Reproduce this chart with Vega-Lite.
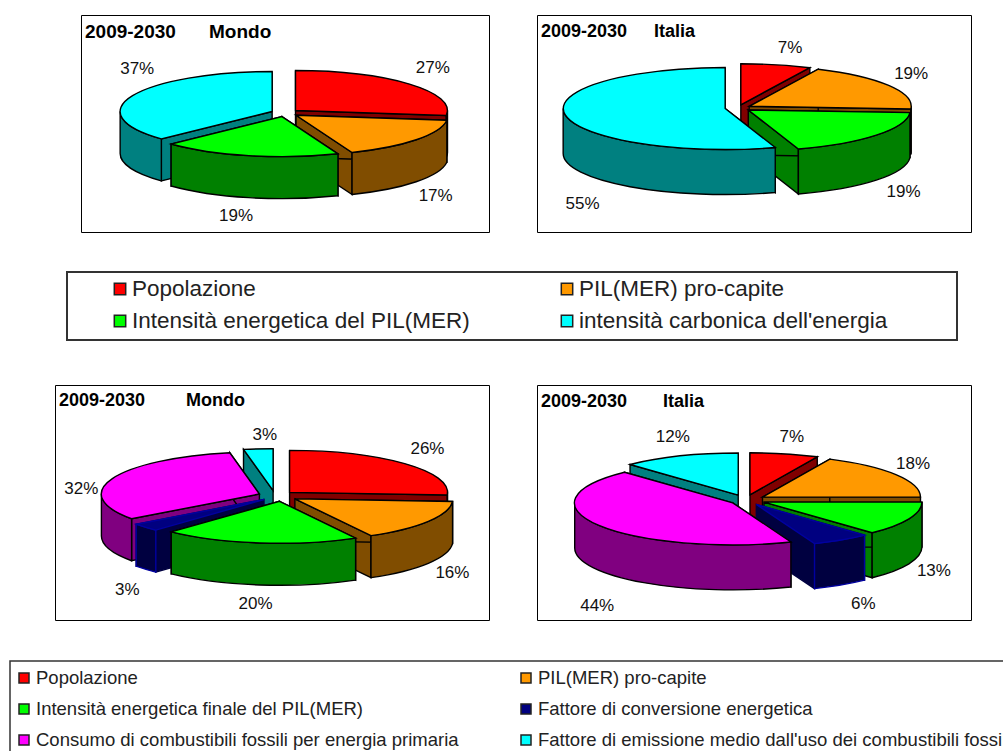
{
"$schema":"https://vega.github.io/schema/vega-lite/v6.json",
"background":"white",
"padding":{"top":14,"left":0,"right":0,"bottom":0},
"spacing":0,
"config":{"concat":{"spacing":0},"view":{"stroke":null},"text":{"font":"Liberation Sans"}},
"data":{"values":[
{"quadro":"mondo_1","voce":"Popolazione","pct":27},
{"quadro":"mondo_1","voce":"PIL(MER) pro-capite","pct":17},
{"quadro":"mondo_1","voce":"Intensità energetica del PIL(MER)","pct":19},
{"quadro":"mondo_1","voce":"intensità carbonica dell'energia","pct":37},
{"quadro":"italia_1","voce":"Popolazione","pct":7},
{"quadro":"italia_1","voce":"PIL(MER) pro-capite","pct":19},
{"quadro":"italia_1","voce":"Intensità energetica del PIL(MER)","pct":19},
{"quadro":"italia_1","voce":"intensità carbonica dell'energia","pct":55},
{"quadro":"mondo_2","voce":"Popolazione","pct":26},
{"quadro":"mondo_2","voce":"PIL(MER) pro-capite","pct":16},
{"quadro":"mondo_2","voce":"Intensità energetica finale del PIL(MER)","pct":20},
{"quadro":"mondo_2","voce":"Fattore di conversione energetica","pct":3},
{"quadro":"mondo_2","voce":"Consumo di combustibili fossili per energia primaria","pct":32},
{"quadro":"mondo_2","voce":"Fattore di emissione medio dall'uso dei combustibili fossili","pct":3},
{"quadro":"italia_2","voce":"Popolazione","pct":7},
{"quadro":"italia_2","voce":"PIL(MER) pro-capite","pct":18},
{"quadro":"italia_2","voce":"Intensità energetica finale del PIL(MER)","pct":13},
{"quadro":"italia_2","voce":"Fattore di conversione energetica","pct":6},
{"quadro":"italia_2","voce":"Consumo di combustibili fossili per energia primaria","pct":44},
{"quadro":"italia_2","voce":"Fattore di emissione medio dall'uso dei combustibili fossili","pct":12}
]},
"transform":[
{"stack":"pct","groupby":["quadro"],"as":["p0","p1"]},
{"window":[{"op":"row_number","as":"n"}],"groupby":["quadro"]},
{"calculate":"{mondo_1:{rx:152,ry:40,dep:42,e:14,cx:204,cy:98},italia_1:{rx:162,ry:41,dep:45,e:13,cx:201,cy:93},mondo_2:{rx:158,ry:42,dep:42,e:20,cx:220,cy:111},italia_2:{rx:158,ry:42,dep:45,e:20,cx:208.6,cy:115}}[datum.quadro]","as":"g"},
{"calculate":"{mondo_1:[[0,0],[-5,-3],[-6,-8],[33,-17]],italia_1:[[7,8],[-5,1],[2,-6],[49,39]],mondo_2:[[4.5,1],[6,-5,3],[6,-6,7],[4.5,3,4],[-5,19,3],[9,10]],italia_2:[[2,6],[-4,2],[2,-4],[9,-3],[23,21,4],[2,3]]}[datum.quadro][datum.n-1]","as":"sp"},
{"calculate":"datum.p0*PI/50","as":"t0"},
{"calculate":"datum.p1*PI/50","as":"t1"},
{"calculate":"(datum.t0+datum.t1)/2","as":"tm"},
{"calculate":"max(datum.t0,PI/2)","as":"u0"},
{"calculate":"min(datum.t1,3*PI/2)","as":"u1"},
{"calculate":"datum.g.cx+datum.g.e*sin(datum.tm)+(datum.sp[2]||0)","as":"ax"},
{"calculate":"datum.g.cy-datum.g.e*datum.g.ry/datum.g.rx*cos(datum.tm)","as":"ay"},
{"calculate":"datum.g.cx+(datum.g.rx+45)*sin(datum.tm)+datum.sp[0]","as":"lx"},
{"calculate":"1+datum.g.cy-(datum.g.ry+30)*cos(datum.tm)+(cos(datum.tm)<0?datum.g.dep:0)+datum.sp[1]","as":"ly"},
{"calculate":"datum.pct+'%'","as":"etichetta"},
{"calculate":"round(10*datum.g.rx*sin(datum.t0))/10","as":"x0"},
{"calculate":"round(-10*datum.g.ry*cos(datum.t0))/10","as":"y0"},
{"calculate":"round(10*datum.g.rx*sin(datum.t1))/10","as":"x1"},
{"calculate":"round(-10*datum.g.ry*cos(datum.t1))/10","as":"y1"},
{"calculate":"round(10*datum.g.rx*sin(datum.u0))/10","as":"xa"},
{"calculate":"round(-10*datum.g.ry*cos(datum.u0))/10","as":"ya"},
{"calculate":"round(10*datum.g.rx*sin(datum.u1))/10","as":"xb"},
{"calculate":"round(-10*datum.g.ry*cos(datum.u1))/10","as":"yb"},
{"calculate":"'M0 0L'+datum.x0+' '+datum.y0+'A'+datum.g.rx+' '+datum.g.ry+' 0 '+(datum.t1-datum.t0>PI?1:0)+' 1 '+datum.x1+' '+datum.y1+'Z'","as":"piano"},
{"calculate":"'M0 0L'+datum.x0+' '+datum.y0+'L'+datum.x0+' '+(datum.y0+datum.g.dep)+'L0 '+datum.g.dep+'ZM0 0L'+datum.x1+' '+datum.y1+'L'+datum.x1+' '+(datum.y1+datum.g.dep)+'L0 '+datum.g.dep+'Z'","as":"tagli"},
{"calculate":"datum.u0<datum.u1?'M'+datum.xa+' '+datum.ya+'A'+datum.g.rx+' '+datum.g.ry+' 0 0 1 '+datum.xb+' '+datum.yb+'L'+datum.xb+' '+(datum.yb+datum.g.dep)+'A'+datum.g.rx+' '+datum.g.ry+' 0 0 0 '+datum.xa+' '+(datum.ya+datum.g.dep)+'Z':'M0 0Z'","as":"bordo"},
{"calculate":"indexof(['Popolazione','PIL(MER) pro-capite','Intensità energetica del PIL(MER)','Intensità energetica finale del PIL(MER)','Fattore di conversione energetica','Consumo di combustibili fossili per energia primaria','intensità carbonica dell\\'energia','Fattore di emissione medio dall\\'uso dei combustibili fossili'],datum.voce)","as":"k"},
{"calculate":"['#ff0000','#ff9900','#00ff00','#00ff00','#000080','#ff00ff','#00ffff','#00ffff'][datum.k]","as":"tinta"},
{"calculate":"['#800000','#804d00','#008000','#008000','#000040','#800080','#008080','#008080'][datum.k]","as":"ombra"},
{"calculate":"datum.k==4?'#0000a0':'#000000'","as":"linea"},
{"calculate":"datum.k==4?'#000040':'#000000'","as":"lineaTaglio"}
],
"vconcat":[
{"hconcat":[
{"width":80,"height":1,"data":{"values":[]},"mark":"point"},
{"width":408,"height":217,"view":{"stroke":"#000","strokeWidth":1,"fill":"white"},
"transform":[{"filter":"datum.quadro==='mondo_1'"}],
"layer":[
{"mark":{"type":"point","filled":true,"opacity":1,"strokeWidth":1.4,"size":4},"encoding":{"x":{"field":"ax","type":"quantitative","scale":{"domain":[0,408],"nice":false,"zero":false},"axis":null},"y":{"field":"ay","type":"quantitative","scale":{"domain":[217,0],"nice":false,"zero":false},"axis":null},"shape":{"field":"tagli","type":"nominal","scale":null},"fill":{"field":"ombra","type":"nominal","scale":null},"stroke":{"field":"lineaTaglio","type":"nominal","scale":null},"order":{"field":"ay","type":"quantitative"}}},
{"mark":{"type":"point","filled":true,"opacity":1,"strokeWidth":1.4,"size":4},"encoding":{"x":{"field":"ax","type":"quantitative"},"y":{"field":"ay","type":"quantitative"},"shape":{"field":"bordo","type":"nominal","scale":null},"fill":{"field":"ombra","type":"nominal","scale":null},"stroke":{"field":"linea","type":"nominal","scale":null},"order":{"field":"ay","type":"quantitative"}}},
{"mark":{"type":"point","filled":true,"opacity":1,"strokeWidth":1.4,"size":4},"encoding":{"x":{"field":"ax","type":"quantitative"},"y":{"field":"ay","type":"quantitative"},"shape":{"field":"piano","type":"nominal","scale":null},"fill":{"field":"tinta","type":"nominal","scale":null},"stroke":{"field":"linea","type":"nominal","scale":null},"order":{"field":"ay","type":"quantitative"}}},
{"mark":{"type":"text","fontSize":17,"color":"#111"},"encoding":{"x":{"field":"lx","type":"quantitative"},"y":{"field":"ly","type":"quantitative"},"text":{"field":"etichetta"}}},
{"data":{"values":[{"t":"2009-2030"}]},"mark":{"type":"text","fontSize":19,"fontWeight":"bold","align":"left","color":"#000"},"encoding":{"x":{"datum":4},"y":{"datum":17},"text":{"field":"t"}}},
{"data":{"values":[{"t":"Mondo"}]},"mark":{"type":"text","fontSize":19,"fontWeight":"bold","align":"left","color":"#000"},"encoding":{"x":{"datum":128},"y":{"datum":17},"text":{"field":"t"}}}
]},
{"width":46,"height":1,"data":{"values":[]},"mark":"point"},
{"width":434,"height":217,"view":{"stroke":"#000","strokeWidth":1,"fill":"white"},
"transform":[{"filter":"datum.quadro==='italia_1'"}],
"layer":[
{"mark":{"type":"point","filled":true,"opacity":1,"strokeWidth":1.4,"size":4},"encoding":{"x":{"field":"ax","type":"quantitative","scale":{"domain":[0,434],"nice":false,"zero":false},"axis":null},"y":{"field":"ay","type":"quantitative","scale":{"domain":[217,0],"nice":false,"zero":false},"axis":null},"shape":{"field":"tagli","type":"nominal","scale":null},"fill":{"field":"ombra","type":"nominal","scale":null},"stroke":{"field":"lineaTaglio","type":"nominal","scale":null},"order":{"field":"ay","type":"quantitative"}}},
{"mark":{"type":"point","filled":true,"opacity":1,"strokeWidth":1.4,"size":4},"encoding":{"x":{"field":"ax","type":"quantitative"},"y":{"field":"ay","type":"quantitative"},"shape":{"field":"bordo","type":"nominal","scale":null},"fill":{"field":"ombra","type":"nominal","scale":null},"stroke":{"field":"linea","type":"nominal","scale":null},"order":{"field":"ay","type":"quantitative"}}},
{"mark":{"type":"point","filled":true,"opacity":1,"strokeWidth":1.4,"size":4},"encoding":{"x":{"field":"ax","type":"quantitative"},"y":{"field":"ay","type":"quantitative"},"shape":{"field":"piano","type":"nominal","scale":null},"fill":{"field":"tinta","type":"nominal","scale":null},"stroke":{"field":"linea","type":"nominal","scale":null},"order":{"field":"ay","type":"quantitative"}}},
{"mark":{"type":"text","fontSize":17,"color":"#111"},"encoding":{"x":{"field":"lx","type":"quantitative"},"y":{"field":"ly","type":"quantitative"},"text":{"field":"etichetta"}}},
{"data":{"values":[{"t":"2009-2030"}]},"mark":{"type":"text","fontSize":18,"fontWeight":"bold","align":"left","color":"#000"},"encoding":{"x":{"datum":4},"y":{"datum":17},"text":{"field":"t"}}},
{"data":{"values":[{"t":"Italia"}]},"mark":{"type":"text","fontSize":18,"fontWeight":"bold","align":"left","color":"#000"},"encoding":{"x":{"datum":117},"y":{"datum":17},"text":{"field":"t"}}}
]}
]},
{"width":1,"height":38,"data":{"values":[]},"mark":"point"},
{"hconcat":[
{"width":66,"height":1,"data":{"values":[]},"mark":"point"},
{"width":890,"height":68,"view":{"stroke":"#333","strokeWidth":2,"fill":"white"},
"data":{"values":[
{"voce":"Popolazione","colore":"#ff0000","colonna":0,"riga":0},
{"voce":"PIL(MER) pro-capite","colore":"#ff9900","colonna":1,"riga":0},
{"voce":"Intensità energetica del PIL(MER)","colore":"#00ff00","colonna":0,"riga":1},
{"voce":"intensità carbonica dell'energia","colore":"#00ffff","colonna":1,"riga":1}
]},
"layer":[
{"mark":{"type":"point","shape":"square","filled":true,"opacity":1,"size":130,"stroke":"#222","strokeWidth":1.5},"encoding":{"x":{"field":"colonna","type":"quantitative","scale":{"domain":[0,1],"range":[53,500]},"axis":null},"y":{"field":"riga","type":"quantitative","scale":{"domain":[0,1],"range":[17,49]},"axis":null},"fill":{"field":"colore","type":"nominal","scale":null}}},
{"mark":{"type":"text","fontSize":22.5,"align":"left","dx":12,"color":"#222"},"encoding":{"x":{"field":"colonna","type":"quantitative"},"y":{"field":"riga","type":"quantitative"},"text":{"field":"voce"}}}
]}
]},
{"width":1,"height":43,"data":{"values":[]},"mark":"point"},
{"hconcat":[
{"width":54,"height":1,"data":{"values":[]},"mark":"point"},
{"width":434,"height":235,"view":{"stroke":"#000","strokeWidth":1,"fill":"white"},
"transform":[{"filter":"datum.quadro==='mondo_2'"}],
"layer":[
{"mark":{"type":"point","filled":true,"opacity":1,"strokeWidth":1.4,"size":4},"encoding":{"x":{"field":"ax","type":"quantitative","scale":{"domain":[0,434],"nice":false,"zero":false},"axis":null},"y":{"field":"ay","type":"quantitative","scale":{"domain":[235,0],"nice":false,"zero":false},"axis":null},"shape":{"field":"tagli","type":"nominal","scale":null},"fill":{"field":"ombra","type":"nominal","scale":null},"stroke":{"field":"lineaTaglio","type":"nominal","scale":null},"order":{"field":"ay","type":"quantitative"}}},
{"mark":{"type":"point","filled":true,"opacity":1,"strokeWidth":1.4,"size":4},"encoding":{"x":{"field":"ax","type":"quantitative"},"y":{"field":"ay","type":"quantitative"},"shape":{"field":"bordo","type":"nominal","scale":null},"fill":{"field":"ombra","type":"nominal","scale":null},"stroke":{"field":"linea","type":"nominal","scale":null},"order":{"field":"ay","type":"quantitative"}}},
{"mark":{"type":"point","filled":true,"opacity":1,"strokeWidth":1.4,"size":4},"encoding":{"x":{"field":"ax","type":"quantitative"},"y":{"field":"ay","type":"quantitative"},"shape":{"field":"piano","type":"nominal","scale":null},"fill":{"field":"tinta","type":"nominal","scale":null},"stroke":{"field":"linea","type":"nominal","scale":null},"order":{"field":"ay","type":"quantitative"}}},
{"mark":{"type":"text","fontSize":17,"color":"#111"},"encoding":{"x":{"field":"lx","type":"quantitative"},"y":{"field":"ly","type":"quantitative"},"text":{"field":"etichetta"}}},
{"data":{"values":[{"t":"2009-2030"}]},"mark":{"type":"text","fontSize":18,"fontWeight":"bold","align":"left","color":"#000"},"encoding":{"x":{"datum":4},"y":{"datum":16},"text":{"field":"t"}}},
{"data":{"values":[{"t":"Mondo"}]},"mark":{"type":"text","fontSize":18,"fontWeight":"bold","align":"left","color":"#000"},"encoding":{"x":{"datum":131},"y":{"datum":16},"text":{"field":"t"}}}
]},
{"width":46,"height":1,"data":{"values":[]},"mark":"point"},
{"width":434,"height":235,"view":{"stroke":"#000","strokeWidth":1,"fill":"white"},
"transform":[{"filter":"datum.quadro==='italia_2'"}],
"layer":[
{"mark":{"type":"point","filled":true,"opacity":1,"strokeWidth":1.4,"size":4},"encoding":{"x":{"field":"ax","type":"quantitative","scale":{"domain":[0,434],"nice":false,"zero":false},"axis":null},"y":{"field":"ay","type":"quantitative","scale":{"domain":[235,0],"nice":false,"zero":false},"axis":null},"shape":{"field":"tagli","type":"nominal","scale":null},"fill":{"field":"ombra","type":"nominal","scale":null},"stroke":{"field":"lineaTaglio","type":"nominal","scale":null},"order":{"field":"ay","type":"quantitative"}}},
{"mark":{"type":"point","filled":true,"opacity":1,"strokeWidth":1.4,"size":4},"encoding":{"x":{"field":"ax","type":"quantitative"},"y":{"field":"ay","type":"quantitative"},"shape":{"field":"bordo","type":"nominal","scale":null},"fill":{"field":"ombra","type":"nominal","scale":null},"stroke":{"field":"linea","type":"nominal","scale":null},"order":{"field":"ay","type":"quantitative"}}},
{"mark":{"type":"point","filled":true,"opacity":1,"strokeWidth":1.4,"size":4},"encoding":{"x":{"field":"ax","type":"quantitative"},"y":{"field":"ay","type":"quantitative"},"shape":{"field":"piano","type":"nominal","scale":null},"fill":{"field":"tinta","type":"nominal","scale":null},"stroke":{"field":"linea","type":"nominal","scale":null},"order":{"field":"ay","type":"quantitative"}}},
{"mark":{"type":"text","fontSize":17,"color":"#111"},"encoding":{"x":{"field":"lx","type":"quantitative"},"y":{"field":"ly","type":"quantitative"},"text":{"field":"etichetta"}}},
{"data":{"values":[{"t":"2009-2030"}]},"mark":{"type":"text","fontSize":18,"fontWeight":"bold","align":"left","color":"#000"},"encoding":{"x":{"datum":4},"y":{"datum":17},"text":{"field":"t"}}},
{"data":{"values":[{"t":"Italia"}]},"mark":{"type":"text","fontSize":18,"fontWeight":"bold","align":"left","color":"#000"},"encoding":{"x":{"datum":126},"y":{"datum":17},"text":{"field":"t"}}}
]}
]},
{"width":1,"height":39,"data":{"values":[]},"mark":"point"},
{"hconcat":[
{"width":9,"height":1,"data":{"values":[]},"mark":"point"},
{"width":996,"height":93,"view":{"stroke":"#333","strokeWidth":1.5,"fill":"white"},
"data":{"values":[
{"voce":"Popolazione","colore":"#ff0000","colonna":0,"riga":0},
{"voce":"PIL(MER) pro-capite","colore":"#ff9900","colonna":1,"riga":0},
{"voce":"Intensità energetica finale del PIL(MER)","colore":"#00ff00","colonna":0,"riga":1},
{"voce":"Fattore di conversione energetica","colore":"#000080","colonna":1,"riga":1},
{"voce":"Consumo di combustibili fossili per energia primaria","colore":"#ff00ff","colonna":0,"riga":2},
{"voce":"Fattore di emissione medio dall'uso dei combustibili fossili","colore":"#00ffff","colonna":1,"riga":2}
]},
"layer":[
{"mark":{"type":"point","shape":"square","filled":true,"opacity":1,"size":100,"stroke":"#222","strokeWidth":1.5},"encoding":{"x":{"field":"colonna","type":"quantitative","scale":{"domain":[0,1],"range":[14,516]},"axis":null},"y":{"field":"riga","type":"quantitative","scale":{"domain":[0,2],"range":[17,79]},"axis":null},"fill":{"field":"colore","type":"nominal","scale":null}}},
{"mark":{"type":"text","fontSize":18.5,"align":"left","dx":12,"color":"#222"},"encoding":{"x":{"field":"colonna","type":"quantitative"},"y":{"field":"riga","type":"quantitative"},"text":{"field":"voce"}}}
]}
]}
]
}
